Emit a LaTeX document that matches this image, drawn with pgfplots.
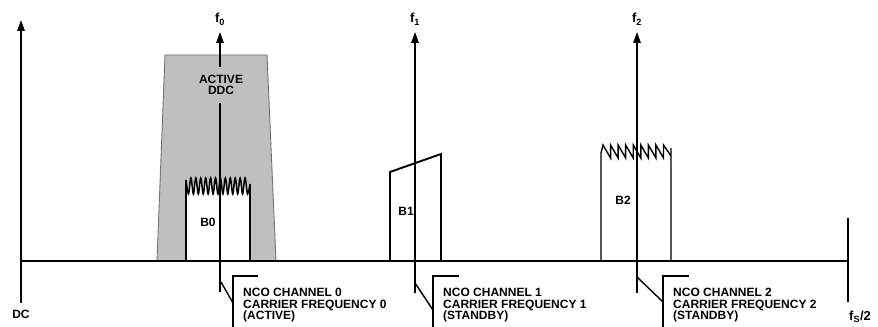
\documentclass[border=0pt]{standalone}
\usepackage{fontspec}
\setmainfont{Liberation Sans}
\usepackage{pgfplots}
\pgfplotsset{compat=1.18}
\usetikzlibrary{arrows.meta}
\begin{document}
\begin{tikzpicture}
\begin{axis}[
  width=878bp, height=327bp, scale only axis,
  xmin=0, xmax=878, ymin=0, ymax=327, y dir=reverse,
  hide axis, clip=false,
  every axis plot/.append style={line join=miter},
  nodes={font=\fontsize{12bp}{11.7bp}\selectfont\bfseries, inner sep=0pt},
]
% gray active DDC filter
\addplot[fill=gray!50, draw=black!55, line width=0.9bp] coordinates {(157,261) (165,55) (267,55) (276,261) (157,261)};
% B0 white fill
\addplot[fill=white, draw=none] coordinates {(186,261) (186,180)
 (188.46,194) (190.92,178) (193.38,194) (195.84,178) (198.3,194) (200.76,178) (203.22,194) (205.68,178) (208.14,194) (210.6,178) (213.06,194) (215.52,178) (217.98,194) (220.44,178) (222.9,194) (225.36,178) (227.82,194) (230.28,178) (232.74,194) (235.2,178) (237.66,194) (240.12,178) (242.58,194) (245.04,178) (247.5,194) (250,184) (250,261)};
% B0 wave top
\addplot[smooth, tension=0.6, line width=1.5bp] coordinates {(186,180)
 (188.46,194) (190.92,178) (193.38,194) (195.84,178) (198.3,194) (200.76,178) (203.22,194) (205.68,178) (208.14,194) (210.6,178) (213.06,194) (215.52,178) (217.98,194) (220.44,178) (222.9,194) (225.36,178) (227.82,194) (230.28,178) (232.74,194) (235.2,178) (237.66,194) (240.12,178) (242.58,194) (245.04,178) (247.5,194) (250,184)};
\addplot[line width=1.5bp] coordinates {(186,261) (186,180)};
\addplot[line width=1.5bp] coordinates {(250,184) (250,261)};
% B1
\addplot[fill=white, line width=1.9bp] coordinates {(390,261) (390,172) (441,154) (441,261) (390,261)};
% B2 sawtooth
\addplot[fill=white, line width=1.4bp] coordinates {(601,261) (601,153) (603,145)
 (610.56,158) (610.56,145) (618.12,158) (618.12,145) (625.68,158) (625.68,145) (633.24,158) (633.24,145) (640.8,158) (640.8,145) (648.36,158) (648.36,145) (655.92,158) (655.92,145) (663.48,158) (663.48,145) (671,156) (671,148) (671,261)};
% baseline
\addplot[line width=1.4bp] coordinates {(20,261) (848,261)};
% fs/2 marker
\addplot[line width=1.4bp] coordinates {(848,218) (848,302)};
% DC axis
\addplot[line width=1.5bp, -{Triangle[length=11bp,width=7.5bp]}] coordinates {(21,303) (21,20)};
% f0 carrier
\addplot[line width=1.5bp, -{Triangle[length=11bp,width=7.5bp]}] coordinates {(220,67) (220,32)};
\addplot[line width=1.5bp] coordinates {(220,103) (220,292)};
% f1 carrier
\addplot[line width=1.5bp, -{Triangle[length=11bp,width=7.5bp]}] coordinates {(415,293) (415,32)};
% f2 carrier
\addplot[line width=1.5bp, -{Triangle[length=11bp,width=7.5bp]}] coordinates {(637,293) (637,32)};
% callouts
\addplot[line width=1.4bp] coordinates {(221,282) (233,303)};
\addplot[line width=1.4bp] coordinates {(258,276) (233,276) (233,327)};
\addplot[line width=1.4bp] coordinates {(415,283) (433,310)};
\addplot[line width=1.4bp] coordinates {(459,276) (433,276) (433,327)};
\addplot[line width=1.4bp] coordinates {(637,277) (663,302)};
\addplot[line width=1.4bp] coordinates {(689,276) (663,276) (663,327)};
% labels
\node[anchor=base, font=\fontsize{13bp}{14bp}\selectfont\bfseries] at (axis cs:220,23) {f\textsubscript{0}};
\node[anchor=base, font=\fontsize{13bp}{14bp}\selectfont\bfseries] at (axis cs:415,23) {f\textsubscript{1}};
\node[anchor=base, font=\fontsize{13bp}{14bp}\selectfont\bfseries] at (axis cs:637,23) {f\textsubscript{2}};
\node[anchor=base west, font=\fontsize{13bp}{14bp}\selectfont\bfseries] at (axis cs:849,320) {f\textsubscript{S}/2};
\node[anchor=base] at (axis cs:21,318.5) {DC};
\node[anchor=base] at (axis cs:221,83.3) {ACTIVE};
\node[anchor=base] at (axis cs:221,94.5) {DDC};
\node[anchor=base] at (axis cs:208,226.3) {B0};
\node[anchor=base] at (axis cs:406,215.3) {B1};
\node[anchor=base] at (axis cs:623,204.3) {B2};
\node[anchor=base west] at (axis cs:243,296.5) {NCO CHANNEL 0};
\node[anchor=base west] at (axis cs:243,308.2) {CARRIER FREQUENCY 0};
\node[anchor=base west] at (axis cs:243,319.9) {(ACTIVE)};
\node[anchor=base west] at (axis cs:443,296.5) {NCO CHANNEL 1};
\node[anchor=base west] at (axis cs:443,308.2) {CARRIER FREQUENCY 1};
\node[anchor=base west] at (axis cs:443,319.9) {(STANDBY)};
\node[anchor=base west] at (axis cs:673,296.5) {NCO CHANNEL 2};
\node[anchor=base west] at (axis cs:673,308.2) {CARRIER FREQUENCY 2};
\node[anchor=base west] at (axis cs:673,319.9) {(STANDBY)};
\end{axis}
\pgfresetboundingbox
\useasboundingbox (current axis.south west) rectangle (current axis.north east);
\end{tikzpicture}
\end{document}
